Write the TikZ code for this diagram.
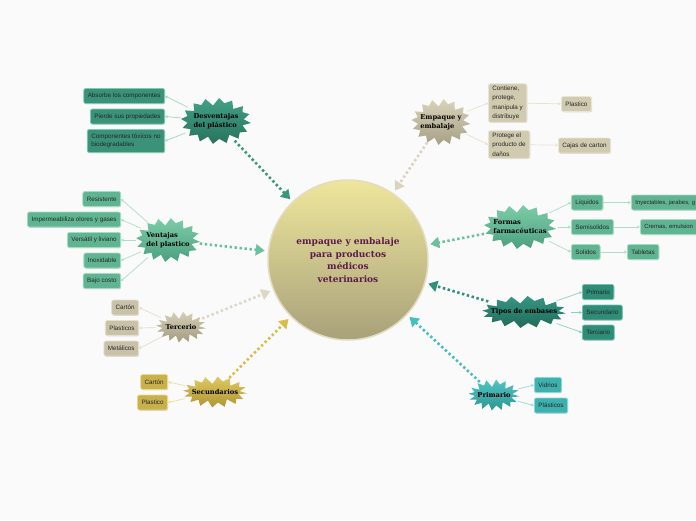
\documentclass[tikz,border=0pt]{standalone}
\usepackage{fontspec}
\newfontfamily\leaffont{Liberation Sans}
\newfontfamily\headfont{DejaVu Serif}
\usetikzlibrary{shapes.geometric,arrows.meta,shadows}
\definecolor{bgc}{HTML}{FAFAFA}
\definecolor{centtop}{HTML}{EEE69C}
\definecolor{centbot}{HTML}{A8A17A}
\definecolor{centline}{HTML}{E2DDC0}
\definecolor{centtext}{HTML}{5C1B4B}
% groups
\definecolor{dvT}{HTML}{42A186}\definecolor{dvB}{HTML}{28735E}\definecolor{dvF}{HTML}{3A9279}\definecolor{dvD}{HTML}{7CCBB0}\definecolor{dvL}{HTML}{9FD6C4}\definecolor{dvA}{HTML}{39977E}
\definecolor{vtT}{HTML}{7DCCA8}\definecolor{vtB}{HTML}{4CA080}\definecolor{vtF}{HTML}{5FB592}\definecolor{vtD}{HTML}{A3DCC3}\definecolor{vtL}{HTML}{AEDDCA}\definecolor{vtA}{HTML}{6BC09F}
\definecolor{teT}{HTML}{D6D0B8}\definecolor{teB}{HTML}{A29B7F}\definecolor{teF}{HTML}{C9C2A8}\definecolor{teD}{HTML}{E6E1CE}\definecolor{teL}{HTML}{E2DECB}\definecolor{teA}{HTML}{DDD8C3}
\definecolor{seT}{HTML}{DFC962}\definecolor{seB}{HTML}{AE9632}\definecolor{seF}{HTML}{C8B14C}\definecolor{seD}{HTML}{E9DA8C}\definecolor{seL}{HTML}{EADF9E}\definecolor{seA}{HTML}{D8BE48}
\definecolor{emT}{HTML}{D8D3BA}\definecolor{emB}{HTML}{A7A085}\definecolor{emF}{HTML}{D0CAAF}\definecolor{emD}{HTML}{E9E5D3}\definecolor{emL}{HTML}{E6E2D2}\definecolor{emA}{HTML}{D9D4BD}
\definecolor{tiT}{HTML}{369682}\definecolor{tiB}{HTML}{216A59}\definecolor{tiF}{HTML}{2F8C77}\definecolor{tiD}{HTML}{70C4AE}\definecolor{tiL}{HTML}{8ED1C1}\definecolor{tiA}{HTML}{2E8F7A}
\definecolor{prT}{HTML}{52C4C2}\definecolor{prB}{HTML}{2C9694}\definecolor{prF}{HTML}{3EB0AE}\definecolor{prD}{HTML}{88D9D7}\definecolor{prL}{HTML}{92DAD7}\definecolor{prA}{HTML}{46BFBD}
\tikzset{
  leaf/.style={rectangle, rounded corners=2pt, inner xsep=4pt, inner ysep=2pt,
    minimum height=15pt, font=\leaffont\fontsize{6.3}{9.5}\selectfont,
    text=black!85, line width=0.8pt,
    drop shadow={opacity=0.25, shadow xshift=0.6pt, shadow yshift=-0.8pt}},
  burst/.style={ellipse, inner sep=0pt, font=\headfont\bfseries\fontsize{6.7}{9}\selectfont,
    align=left, text=black},
  dotarrow/.style={line width=2.6pt, dash pattern=on 2.4pt off 2.6pt,
    -{Triangle[width=11pt,length=9pt]}, shorten >=3pt},
  link/.style={line width=0.7pt, -{Stealth[length=3pt,width=3pt]}},
}
% zigzag star: x, y, half width, half height, top colour, bottom colour
\newcommand\zigstar[6]{%
  \shade[top color=#5, bottom color=#6] plot[samples at={0,...,31}, variable=\i]
    ({#1+(#3-mod(\i,2)*(6+1.5*sin(\i*97)))*cos(\i*11.25+5)},
     {#2+(#4-mod(\i,2)*(6+1.5*sin(\i*97)))*sin(\i*11.25+5)}) -- cycle;}
\begin{document}
\begin{tikzpicture}[x=1pt,y=-1pt]
\fill[bgc] (0,0) rectangle (696,520);
\clip (0,0) rectangle (696,520);
% center
\node[circle, minimum size=160pt, inner sep=0pt, draw=centline, line width=1.5pt,
  top color=centtop, bottom color=centbot, text=centtext, align=center,
  font=\headfont\bfseries\fontsize{9}{12.5}\selectfont] (ctr) at (348,260)
  {empaque y embalaje\\para productos\\médicos\\veterinarios};

% stars
\zigstar{216}{121}{35}{23}{dvT}{dvB}
\node[burst, minimum width=70pt, minimum height=46pt] (desv) at (216,121) {Desventajas\\del plástico};
\zigstar{168}{240}{32}{22}{vtT}{vtB}
\node[burst, minimum width=64pt, minimum height=44pt] (vent) at (168,240) {Ventajas\\del plastico};
\zigstar{181}{327}{25}{15.5}{teT}{teB}
\node[burst, minimum width=50pt, minimum height=31pt] (terc) at (181,327) {Tercerio};
\zigstar{215}{392}{32}{15.5}{seT}{seB}
\node[burst, minimum width=64pt, minimum height=31pt] (secu) at (215,392) {Secundarios};
\zigstar{441}{122}{29.5}{23}{emT}{emB}
\node[burst, minimum width=59pt, minimum height=46pt] (empa) at (441,122) {Empaque y\\embalaje};
\zigstar{520}{227}{36}{22}{vtT}{vtB}
\node[burst, minimum width=72pt, minimum height=44pt] (form) at (520,227) {Formas\\farmacéuticas};
\zigstar{524}{312}{42}{16}{tiT}{tiB}
\node[burst, minimum width=84pt, minimum height=32pt] (tipo) at (524,312) {Tipos de embases};
\zigstar{494}{395}{25.5}{15.5}{prT}{prB}
\node[burst, minimum width=51pt, minimum height=31pt] (prim) at (494,395) {Primario};

% arrows to center
\draw[dotarrow, dvA] (desv) -- (ctr);
\draw[dotarrow, vtA] (vent) -- (ctr);
\draw[dotarrow, teA] (terc) -- (ctr);
\draw[dotarrow, seA] (secu) -- (ctr);
\draw[dotarrow, emA] (empa) -- (ctr);
\draw[dotarrow, vtA] (form) -- (ctr);
\draw[dotarrow, tiA] (tipo) -- (ctr);
\draw[dotarrow, prA] (prim) -- (ctr);

% Desventajas leaves
\node[leaf, fill=dvF, draw=dvD, anchor=east] (d1) at (165,96) {Absorbe los componentes};
\node[leaf, fill=dvF, draw=dvD, anchor=east] (d2) at (165,116.5) {Pierde sus propiedades};
\node[leaf, fill=dvF, draw=dvD, anchor=east, align=left, minimum height=23pt, font=\leaffont\fontsize{6.3}{8.5}\selectfont] (d3) at (165,141) {Componentes tóxicos no\\biodegradables};
\foreach \n in {d1,d2,d3} \draw[link, dvL] (desv) -- (\n.east);

% Ventajas leaves
\node[leaf, fill=vtF, draw=vtD, anchor=east] (v1) at (121,199) {Resistente};
\node[leaf, fill=vtF, draw=vtD, anchor=east] (v2) at (121,219.5) {Impermeabiliza olores y gases};
\node[leaf, fill=vtF, draw=vtD, anchor=east] (v3) at (121,240) {Versátil y liviano};
\node[leaf, fill=vtF, draw=vtD, anchor=east] (v4) at (121,260.5) {Inoxidable};
\node[leaf, fill=vtF, draw=vtD, anchor=east] (v5) at (121,281) {Bajo costo};
\foreach \n in {v1,v2,v3,v4,v5} \draw[link, vtL] (vent) -- (\n.east);

% Tercerio leaves
\node[leaf, fill=teF, draw=teD, anchor=east] (t1) at (139,307.5) {Cartón};
\node[leaf, fill=teF, draw=teD, anchor=east] (t2) at (139,328) {Plasticos};
\node[leaf, fill=teF, draw=teD, anchor=east] (t3) at (139,348.5) {Metálicos};
\foreach \n in {t1,t2,t3} \draw[link, teL] (terc) -- (\n.east);

% Secundarios leaves
\node[leaf, fill=seF, draw=seD, anchor=east] (s1) at (168,382) {Cartón};
\node[leaf, fill=seF, draw=seD, anchor=east] (s2) at (168,402.5) {Plastico};
\foreach \n in {s1,s2} \draw[link, seL] (secu) -- (\n.east);

% Empaque leaves
\node[leaf, fill=emF, draw=emD, anchor=west, align=left] (e1) at (488,103) {Contiene,\\protege,\\manipula y\\distribuye};
\node[leaf, fill=emF, draw=emD, anchor=west, align=left] (e2) at (488,144.5) {Protege el\\producto de\\daños};
\node[leaf, fill=emF, draw=emD, anchor=west] (e3) at (561,104) {Plastico};
\node[leaf, fill=emF, draw=emD, anchor=west] (e4) at (558,145.5) {Cajas de carton};
\foreach \n in {e1,e2} \draw[link, emL] (empa) -- (\n.west);
\draw[link, emL] (e1) -- (e3);
\draw[link, emL] (e2) -- (e4);

% Formas leaves
\node[leaf, fill=vtF, draw=vtD, anchor=west] (f1) at (571,202.5) {Liquidos};
\node[leaf, fill=vtF, draw=vtD, anchor=west] (f2) at (571,227) {Semisolidos};
\node[leaf, fill=vtF, draw=vtD, anchor=west] (f3) at (571,252) {Solidos};
\node[leaf, fill=vtF, draw=vtD, anchor=west, minimum width=80pt, align=left, text width=72pt, font=\leaffont\fontsize{5.9}{9.5}\selectfont] (f4) at (631,202.5) {Inyectables, jarabes, g};
\node[leaf, fill=vtF, draw=vtD, anchor=west, minimum width=70pt, align=left, text width=62pt, font=\leaffont\fontsize{6}{9.5}\selectfont] (f5) at (640,227) {Cremas, emulsion};
\node[leaf, fill=vtF, draw=vtD, anchor=west] (f6) at (627,252) {Tabletas};
\foreach \n in {f1,f2,f3} \draw[link, vtL] (form) -- (\n.west);
\draw[link, vtL] (f1) -- (f4);
\draw[link, vtL] (f2) -- (f5);
\draw[link, vtL] (f3) -- (f6);

% Tipos leaves
\node[leaf, fill=tiF, draw=tiD, anchor=west] (p1) at (582,292) {Primario};
\node[leaf, fill=tiF, draw=tiD, anchor=west] (p2) at (582,312.5) {Secundario};
\node[leaf, fill=tiF, draw=tiD, anchor=west] (p3) at (582,332.5) {Terciario};
\foreach \n in {p1,p2,p3} \draw[link, tiL] (tipo) -- (\n.west);

% Primario leaves
\node[leaf, fill=prF, draw=prD, anchor=west] (r1) at (534,385) {Vidrios};
\node[leaf, fill=prF, draw=prD, anchor=west] (r2) at (534,405.5) {Plásticos};
\foreach \n in {r1,r2} \draw[link, prL] (prim) -- (\n.west);
\end{tikzpicture}
\end{document}
